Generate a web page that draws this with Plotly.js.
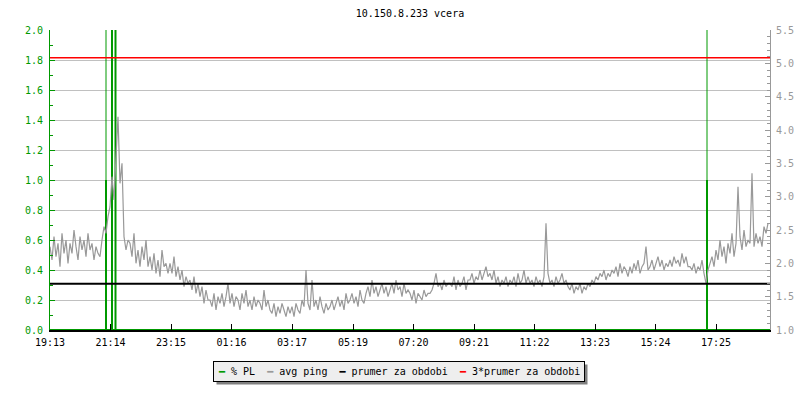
<!DOCTYPE html>
<html>
<head>
<meta charset="utf-8">
<script src="https://cdn.plot.ly/plotly-3.0.1.min.js"></script>
<style>
html,body{margin:0;padding:0;background:#fff;}
#chart{width:800px;height:400px;}
</style>
</head>
<body>
<div id="chart"></div>
<script>
// ---- DATA ----
const chartTitle = '10.150.8.233 vcera';
const tickLabels = ['19:13','21:14','23:15','01:16','03:17','05:19','07:20','09:21','11:22','13:23','15:24','17:25'];
const startLabel = '19:13';
const periodMinutes = 1440;

// avg ping (ms, right axis), one sample every 4 minutes starting at 19:13
const pingStep = 4;
const avgPing = [
  2.25,2.05,2.40,2.10,2.30,1.95,2.45,2.15,2.35,2.00,
  2.30,2.15,2.50,2.25,2.05,2.40,2.20,2.35,2.10,2.45,
  2.20,2.30,2.05,2.25,2.15,2.10,2.35,2.55,2.45,2.70,
  2.85,3.30,2.95,3.60,4.20,3.20,3.50,2.40,2.20,2.35,
  2.30,2.10,2.45,2.00,2.20,1.95,2.25,2.05,2.35,1.95,
  2.10,1.90,2.15,1.85,2.05,1.80,2.20,1.95,2.00,1.85,
  2.00,1.85,2.10,1.80,1.95,1.75,1.90,1.65,1.80,1.70,
  1.75,1.60,1.80,1.55,1.70,1.50,1.65,1.40,1.60,1.45,
  1.45,1.35,1.55,1.30,1.50,1.40,1.55,1.35,1.50,1.70,
  1.40,1.55,1.35,1.50,1.45,1.30,1.55,1.40,1.60,1.35,
  1.45,1.30,1.50,1.35,1.45,1.40,1.30,1.60,1.35,1.45,
  1.30,1.25,1.40,1.20,1.35,1.25,1.40,1.30,1.20,1.35,
  1.25,1.35,1.20,1.40,1.30,1.25,1.45,1.35,1.90,1.40,
  1.30,1.75,1.35,1.45,1.30,1.50,1.35,1.25,1.40,1.30,
  1.35,1.45,1.30,1.40,1.50,1.35,1.45,1.30,1.55,1.40,
  1.45,1.55,1.40,1.50,1.35,1.60,1.45,1.40,1.55,1.65,
  1.50,1.75,1.55,1.65,1.50,1.60,1.70,1.55,1.65,1.50,
  1.60,1.70,1.55,1.75,1.60,1.65,1.50,1.70,1.55,1.60,
  1.55,1.45,1.60,1.40,1.55,1.50,1.45,1.60,1.50,1.55,
  1.55,1.60,1.70,1.85,1.65,1.70,1.60,1.75,1.65,1.70,
  1.70,1.65,1.80,1.60,1.75,1.65,1.70,1.80,1.60,1.75,
  1.75,1.85,1.70,1.80,1.75,1.90,1.75,1.85,1.95,1.80,
  1.85,1.75,1.90,1.70,1.80,1.65,1.75,1.70,1.80,1.65,
  1.75,1.70,1.80,1.65,1.85,1.70,1.75,1.90,1.70,1.80,
  1.70,1.75,1.65,1.80,1.70,1.75,1.65,1.80,2.60,1.85,
  1.70,1.75,1.65,1.80,1.70,1.75,1.85,1.70,1.75,1.65,
  1.60,1.70,1.55,1.65,1.60,1.70,1.55,1.65,1.60,1.70,
  1.65,1.75,1.70,1.80,1.75,1.85,1.80,1.90,1.75,1.85,
  1.80,1.90,1.85,1.95,1.80,2.00,1.85,1.95,1.90,1.80,
  1.95,1.85,2.00,1.90,2.05,1.85,1.95,2.00,2.25,1.90,
  1.95,2.05,1.90,2.00,2.10,1.95,2.05,1.90,2.00,1.95,
  2.05,1.95,2.10,2.00,2.05,1.95,2.15,2.00,2.10,1.95,
  1.95,1.90,2.00,1.85,1.95,1.90,2.05,1.85,1.70,1.90,
  2.00,2.10,1.95,2.20,2.05,2.35,2.10,2.25,2.00,2.30,
  2.15,2.45,2.10,2.30,3.15,2.40,2.20,2.50,2.25,2.35,
  2.30,3.35,2.25,2.45,2.30,2.40,2.25,2.55,2.45,2.60
];

// % packet loss (left axis), minutes after 19:13
const plTimes  = [0, 112, 112, 112, 124, 124, 124, 131, 131, 131, 1314, 1314, 1314, 1440];
const plValues = [0,   0, 1.0,   0,   0, 2.5,   0,   0, 2.5,   0,    0,  1.0,    0,    0];
// samples whose loss goes past the top of the scale (thin overshoot)
const plOverTimes  = [112, 112, null, 1314, 1314];
const plOverValues = [1.0, 2.5, null,  1.0,  2.5];

const avgPeriod = 1.695;      // prumer za obdobi (ms)
const avgPeriod3 = 5.085;     // 3*prumer za obdobi (ms)

const legendNames  = ['% PL', 'avg ping', 'prumer za obdobi', '3*prumer za obdobi'];
const legendColors = ['#009900', '#999999', '#000000', '#ff0000'];

// ---- BUILD ----
function toMin(s){ const p = s.split(':'); return (+p[0])*60 + (+p[1]); }
const t0 = toMin(startLabel);
const tickVals = tickLabels.map(s => (toMin(s) - t0 + 1440) % 1440);
const pingTimes = avgPing.map((v,i) => i*pingStep);

const green = legendColors[0], grey = legendColors[1];
const mono = 'DejaVu Sans Mono, monospace';

const traces = [
  {x: plOverTimes, y: plOverValues, type:'scatter', mode:'lines', showlegend:false, hoverinfo:'skip',
   line:{color:green, width:1, simplify:false}, yaxis:'y', connectgaps:false},
  {x: plTimes, y: plValues, type:'scatter', mode:'lines', name:legendNames[0],
   line:{color:green, width:2, simplify:false}, yaxis:'y'},
  {x: pingTimes, y: avgPing, type:'scatter', mode:'lines', name:legendNames[1],
   line:{color:grey, width:1.2, simplify:false}, yaxis:'y2'},
  {x: [0, periodMinutes], y: [avgPeriod, avgPeriod], type:'scatter', mode:'lines', name:legendNames[2],
   line:{color:legendColors[2], width:2}, yaxis:'y2'},
  {x: [0, periodMinutes], y: [avgPeriod3, avgPeriod3], type:'scatter', mode:'lines', name:legendNames[3],
   line:{color:legendColors[3], width:1.5}, yaxis:'y2'}
];

const legendText = legendNames.map((n,i) =>
  '<span style="color:' + legendColors[i] + '">\u2501</span> ' + n).join('  ');

const layout = {
  width:800, height:400,
  margin:{l:50, r:30, t:30, b:70, pad:0},
  paper_bgcolor:'#ffffff', plot_bgcolor:'#ffffff',
  font:{family:mono, size:10, color:'#000'},
  title:{text:chartTitle, x:0.5125, xanchor:'center', y:0.967, yanchor:'middle', font:{family:mono, size:10, color:'#000'}},
  showlegend:false,
  annotations:[{text:legendText, xref:'paper', yref:'paper', x:0.4847, y:-0.1367,
    xanchor:'center', yanchor:'middle', showarrow:false, align:'left',
    bgcolor:'#eeeeee', bordercolor:'#000000', borderwidth:1, borderpad:4,
    font:{family:mono, size:10, color:'#000'}}],
  xaxis:{range:[0, periodMinutes], tickvals:tickVals, ticktext:tickLabels,
    ticks:'inside', ticklen:6, tickcolor:'#000', showgrid:false, zeroline:false,
    showline:true, linecolor:'#000', linewidth:1.5, tickfont:{family:mono, size:10, color:'#000'},
    ticklabelstandoff:2},
  yaxis:{range:[0,2.0], dtick:0.2, tick0:0, tickformat:'.1f', ticks:'inside', ticklen:5, tickcolor:green,
    minor:{dtick:0.1, ticks:'inside', ticklen:3, tickcolor:green, showgrid:false},
    showgrid:true, gridcolor:'#c0c0c0', gridwidth:1, zeroline:false,
    showline:true, linecolor:green, linewidth:1, tickfont:{family:mono, size:10, color:green},
    ticklabelstandoff:4},
  yaxis2:{range:[1.0,5.5], dtick:0.5, tick0:1, tickformat:'.1f', overlaying:'y', side:'right',
    ticks:'inside', ticklen:5, tickcolor:grey,
    minor:{dtick:0.1, ticks:'inside', ticklen:3, tickcolor:grey, showgrid:false},
    showgrid:false, zeroline:false, showline:true, linecolor:grey, linewidth:1,
    tickfont:{family:mono, size:10, color:grey}, ticklabelstandoff:3}
};

Plotly.newPlot('chart', traces, layout, {staticPlot:true, displayModeBar:false}).then(gd => {
  const bg = gd.querySelector('g.annotation rect.bg');
  if (!bg) return;
  const r = bg.getBoundingClientRect();
  const c = gd.getBoundingClientRect();
  const L = 50, T = 30, W = 720, H = 300, off = 3;
  const px = v => (v - L) / W, py = v => 1 - (v - T) / H;
  const x0 = r.left - c.left + off, x1 = r.right - c.left + off;
  const y0 = r.top - c.top + off, y1 = r.bottom - c.top + off;
  Plotly.relayout(gd, {shapes:[{type:'rect', xref:'paper', yref:'paper',
    x0:px(x0), x1:px(x1), y0:py(y1), y1:py(y0), fillcolor:'#808080', line:{width:0}, layer:'below'}]});
});
</script>
</body>
</html>
